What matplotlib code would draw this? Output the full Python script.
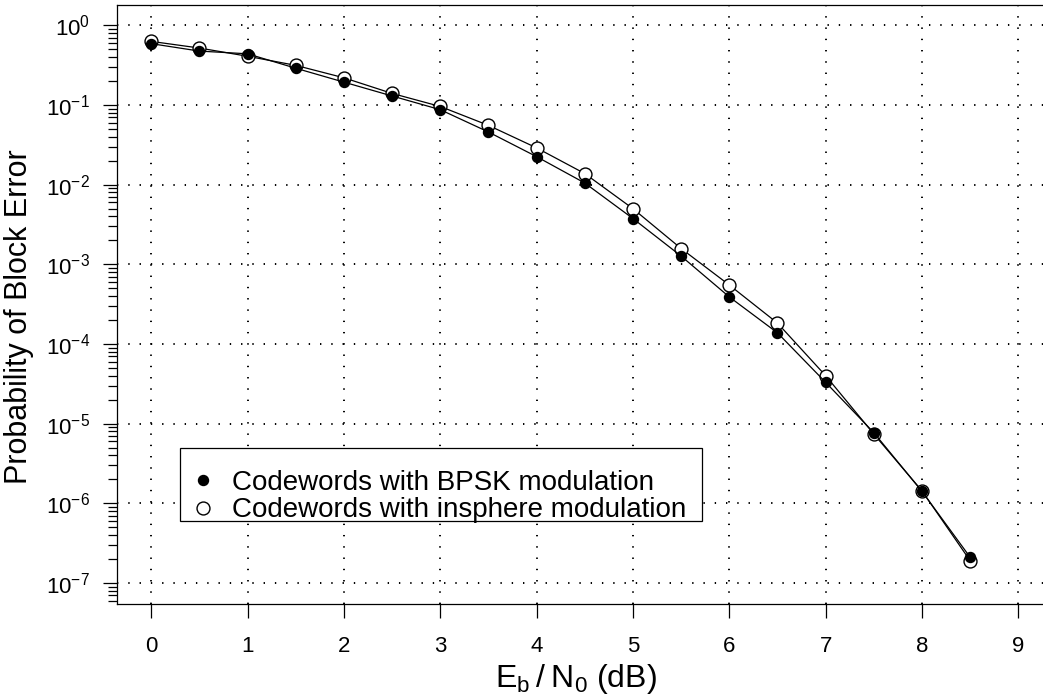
import matplotlib
matplotlib.use("Agg")

import matplotlib.pyplot as plt
import numpy as np
from matplotlib.patches import Rectangle
from matplotlib.ticker import LogLocator, NullFormatter, FixedLocator

plt.rcParams['font.family'] = ['Liberation Sans', 'DejaVu Sans']
plt.rcParams['mathtext.fontset'] = 'custom'
plt.rcParams['mathtext.rm'] = 'Liberation Sans'
plt.rcParams['mathtext.it'] = 'Liberation Sans:italic'
plt.rcParams['mathtext.default'] = 'regular'

# -------------------------------------------------------
# data
# -------------------------------------------------------
ebn0 = [0, 0.5, 1, 1.5, 2, 2.5, 3, 3.5, 4, 4.5, 5, 5.5, 6, 6.5, 7, 7.5, 8, 8.5]

bler_bpsk = [0.59, 0.476, 0.44, 0.29, 0.194, 0.13, 0.0875, 0.0459, 0.0225,
             0.0105, 0.00376, 0.00127, 3.9e-4, 1.38e-4, 3.3e-5, 7.7e-6,
             1.41e-6, 2.1e-7]

bler_insphere = [0.63, 0.52, 0.41, 0.315, 0.22, 0.14, 0.096, 0.0556, 0.029,
                 0.0138, 0.0050, 0.00158, 5.5e-4, 1.83e-4, 4.0e-5, 7.4e-6,
                 1.43e-6, 1.9e-7]

x_ticks = list(range(0, 10))
y_decades = [10.0 ** k for k in range(-7, 1)]

W, H = 1043, 695
AX_L, AX_R, AX_T, AX_B = 116.5, 1053, 4.7, 604   # box in pixels
fig = plt.figure(figsize=(W / 100, H / 100), dpi=100)
# right edge of the box sits just outside the picture, like the reference
ax = fig.add_axes([AX_L / W, 1 - AX_B / H, (AX_R - AX_L) / W, (AX_B - AX_T) / H])

ax.set_yscale('log')
ax.set_xlim(-0.36, 9.36)
ax.set_ylim(10 ** -7.265, 10 ** 0.26)

# dotted grid
dot = (0, (0.7, 5.1))
for xv in x_ticks:
    ax.axvline(xv, color='black', lw=1.4, ls=dot, zorder=1)
for yv in y_decades:
    ax.axhline(yv, color='black', lw=1.4, ls=dot, zorder=1)

# curves (open drawn first so the filled markers sit on top)
l2, = ax.plot(ebn0, bler_insphere, color='black', lw=0.9, marker='o', ms=9.3,
              mfc='white', mec='black', mew=1.0, zorder=3,
              label='Codewords with insphere modulation')
l1, = ax.plot(ebn0, bler_bpsk, color='black', lw=0.9, marker='o', ms=7.2,
              mfc='black', mec='black', mew=1.0, zorder=4,
              label='Codewords with BPSK modulation')

# axes / ticks
for s in ax.spines.values():
    s.set_linewidth(0.9)
ax.xaxis.set_major_locator(FixedLocator(x_ticks))
ax.set_xticklabels([str(v) for v in x_ticks])
ax.yaxis.set_major_locator(FixedLocator(y_decades))
ax.set_yticklabels([r'$10^{%d}$' % k for k in range(-7, 1)])
ax.yaxis.set_minor_locator(LogLocator(base=10, subs=np.arange(2, 10), numticks=20))
ax.yaxis.set_minor_formatter(NullFormatter())
ax.tick_params(axis='x', which='major', direction='out', length=10, width=0.9,
               labelsize=16, pad=13)
ax.tick_params(axis='y', which='major', direction='out', length=10, width=0.9,
               labelsize=16, pad=9)
ax.tick_params(axis='y', which='minor', direction='out', length=6.5, width=0.9)

ax.set_xlabel(r'$E_b\:/\:N_0$ (dB)', fontsize=23)
ax.xaxis.label.set_va('center')
ax.xaxis.set_label_coords((576 - AX_L) / (AX_R - AX_L), (AX_B - 679) / (AX_B - AX_T))
ax.set_ylabel('Probability of Block Error', fontsize=22)
ax.yaxis.label.set_va('center')
ax.yaxis.set_label_coords((19 - AX_L) / (AX_R - AX_L), (AX_B - 317) / (AX_B - AX_T))

# legend box drawn separately, legend entries placed inside it
box = Rectangle((180 / W, 1 - 521 / H), 522 / W, 73 / H, transform=fig.transFigure,
                facecolor='white', edgecolor='black', lw=0.9, zorder=4.9)
ax.add_artist(box)
leg = ax.legend(handles=[l1, l2], loc='upper left',
                bbox_to_anchor=(188 / W, 1 - 470 / H), bbox_transform=fig.transFigure,
                fontsize=20, frameon=False, handlelength=1.1, handletextpad=0.5,
                borderpad=0, borderaxespad=0, labelspacing=0.05)
for h in leg.legend_handles:
    h.set_linestyle('none')

fig.savefig('out.png', dpi=100)
